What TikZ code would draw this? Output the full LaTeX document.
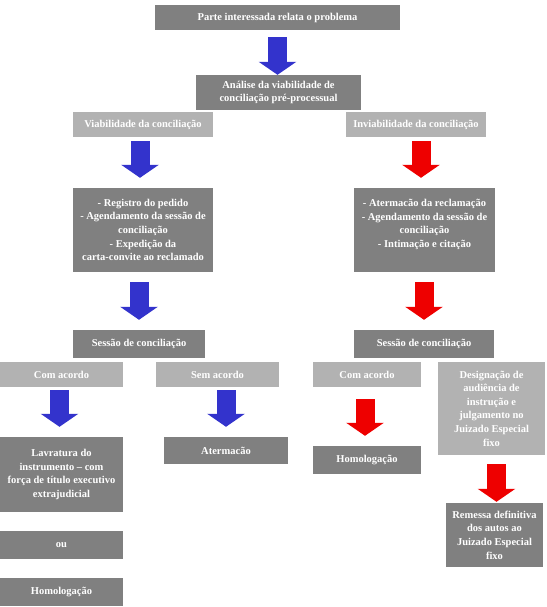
\documentclass[tikz,border=0pt]{standalone}
\usepackage{fontspec}
\setmainfont{Liberation Serif}
\usetikzlibrary{arrows.meta}
\definecolor{boxdark}{RGB}{128,128,128}
\definecolor{boxlight}{RGB}{178,178,178}
\definecolor{okblue}{RGB}{51,51,204}
\definecolor{nored}{RGB}{238,0,0}

\begin{document}
\begin{tikzpicture}[x=1pt,y=-1pt,>={Triangle[width=37pt,length=13pt]}]
  \tikzstyle{process}=[rectangle,fill=boxdark,text=white,inner sep=2pt,
              font=\bfseries\fontsize{10.5}{13.6}\selectfont,align=center]
  \tikzstyle{outcome}=[process,fill=boxlight]
  \tikzstyle{flow}=[line width=19pt,->]
  \useasboundingbox (0,0) rectangle (546,607);
    \node [process,minimum width=245pt,minimum height=25pt] (start) at (277.5,17.5) {Parte interessada relata o problema};
    \node [process,minimum width=165pt,minimum height=35pt] (analise) at (278.5,92.5) {Análise da viabilidade de\\conciliação pré-processual};
    \node [outcome,minimum width=140pt,minimum height=25pt] (viab) at (143,124.5) {Viabilidade da conciliação};
    \node [outcome,minimum width=140pt,minimum height=25pt] (inviab) at (416,124.5) {Inviabilidade da conciliação};
    \node [process,minimum width=140pt,minimum height=84pt] (registro) at (143,230) {- Registro do pedido\\- Agendamento da sessão de\\conciliação\\- Expedição da\\carta-convite ao reclamado};
    \node [process,minimum width=141pt,minimum height=84pt] (atermacao) at (424.5,230) {- Atermacão da reclamação\\- Agendamento da sessão de\\conciliação\\- Intimação e citação\\\mbox{}};
    \node [process,minimum width=132pt,minimum height=28pt] (sessaoL) at (139,344) {Sessão de conciliação};
    \node [process,minimum width=140pt,minimum height=28pt] (sessaoR) at (424,344) {Sessão de conciliação};
    \node [outcome,minimum width=123pt,minimum height=25pt] (comL) at (61.5,374.5) {Com acordo};
    \node [outcome,minimum width=123pt,minimum height=25pt] (semL) at (217.5,374.5) {Sem acordo};
    \node [outcome,minimum width=108pt,minimum height=25pt] (comR) at (367,374.5) {Com acordo};
    \node [outcome,minimum width=107pt,minimum height=93pt] (designa) at (491.5,408.5) {Designação de\\audiência de\\instrução e\\julgamento no\\Juizado Especial\\fixo};
    \node [process,minimum width=123pt,minimum height=75pt] (lavra) at (61.5,474.5) {Lavratura do\\instrumento – com\\força de título executivo\\extrajudicial};
    \node [process,minimum width=124pt,minimum height=27pt] (termo) at (226,450.5) {Atermacão};
    \node [process,minimum width=108pt,minimum height=28pt] (homR) at (367,460) {Homologação};
    \node [process,minimum width=123pt,minimum height=28pt] (ou) at (61.5,545) {ou};
    \node [process,minimum width=123pt,minimum height=28pt] (homL) at (61.5,592) {Homologação};
    \node [process,minimum width=97pt,minimum height=64pt] (remessa) at (494.5,535) {Remessa definitiva\\dos autos ao\\Juizado Especial\\fixo};
    % setas
    \draw [flow,draw=okblue,shorten <=7pt] (start.south) -- (start.south |- analise.north);
    \draw [flow,draw=okblue,shorten <=4pt,shorten >=10pt] ([xshift=-3pt]viab.south) -- ([xshift=-3pt]viab.south |- registro.north);
    \draw [flow,draw=nored,shorten <=4pt,shorten >=10pt] ([xshift=5pt]inviab.south) -- ([xshift=5pt]inviab.south |- atermacao.north);
    \draw [flow,draw=okblue,shorten <=10pt,shorten >=10pt] (sessaoL.north |- registro.south) -- (sessaoL.north);
    \draw [flow,draw=nored,shorten <=10pt,shorten >=10pt] (sessaoR.north |- atermacao.south) -- (sessaoR.north);
    \draw [flow,draw=okblue,shorten <=3pt,shorten >=10pt] ([xshift=-2pt]comL.south) -- ([xshift=-2pt]comL.south |- lavra.north);
    \draw [flow,draw=okblue,shorten <=3pt,shorten >=10pt] (termo.north |- semL.south) -- (termo.north);
    \draw [flow,draw=nored,shorten <=12pt,shorten >=10pt] ([xshift=-2pt]comR.south) -- ([xshift=-2pt]comR.south |- homR.north);
    \draw [flow,draw=nored,shorten <=9pt,shorten >=1pt] ([xshift=2pt]remessa.north |- designa.south) -- ([xshift=2pt]remessa.north);
\end{tikzpicture}
\end{document}
